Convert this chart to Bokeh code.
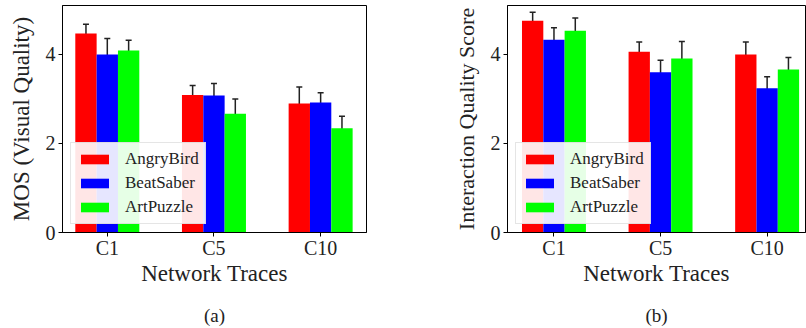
from bokeh.plotting import figure
from bokeh.layouts import row
from bokeh.models import (ColumnDataSource, Whisker, TeeHead, FixedTicker, Range1d,
                          Legend, LegendItem, LinearAxis)
from bokeh.embed import file_html
from bokeh.resources import INLINE

categories = ["C1", "C5", "C10"]
games = ["AngryBird", "BeatSaber", "ArtPuzzle"]

mos_angrybird = [4.47, 3.09, 2.90]
mos_beatsaber = [4.00, 3.08, 2.92]
mos_artpuzzle = [4.09, 2.67, 2.34]
mos_err_angrybird = [0.21, 0.21, 0.37]
mos_err_beatsaber = [0.36, 0.27, 0.22]
mos_err_artpuzzle = [0.23, 0.33, 0.27]

iq_angrybird = [4.76, 4.06, 4.00]
iq_beatsaber = [4.33, 3.60, 3.24]
iq_artpuzzle = [4.53, 3.91, 3.66]
iq_err_angrybird = [0.19, 0.22, 0.28]
iq_err_beatsaber = [0.27, 0.27, 0.26]
iq_err_artpuzzle = [0.29, 0.38, 0.27]

y_ticks = [0, 2, 4]

colors = ["#ff0000", "#0000ff", "#00ff00"]
offsets = [-0.2, 0.0, 0.2]
BAR_W = 0.2
FONT = "Liberation Serif"
TXT = "#222222"


def panel(series, errors, ylabel, ylabel_size, caption, width, left, right, top, xr):
    p = figure(width=width, height=328, x_range=Range1d(*xr), y_range=Range1d(0, 5.1),
               output_backend="svg", toolbar_location=None, title=None,
               min_border_left=left, min_border_right=right,
               min_border_top=top, min_border_bottom=96)
    p.xgrid.visible = False
    p.ygrid.visible = False
    p.outline_line_color = "black"
    p.outline_line_width = 1
    p.outline_line_alpha = 1
    p.background_fill_color = "white"
    p.border_fill_color = "white"

    items = []
    idx = list(range(len(categories)))
    for g, vals, errs, c, off in zip(games, series, errors, colors, offsets):
        xs = [i + off for i in idx]
        src = ColumnDataSource(dict(x=xs, top=vals,
                                    upper=[v + e for v, e in zip(vals, errs)],
                                    lower=[v - e for v, e in zip(vals, errs)]))
        r = p.vbar(x="x", top="top", width=BAR_W, bottom=0, source=src,
                   fill_color=c, line_color=None)
        items.append(LegendItem(label=g, renderers=[r]))
        w = Whisker(base="x", upper="upper", lower="lower", source=src,
                    line_color=TXT, line_width=1.5,
                    upper_head=TeeHead(size=6, line_color=TXT, line_width=1.5),
                    lower_head=TeeHead(size=6, line_color=TXT, line_width=1.5))
        p.add_layout(w)

    p.xaxis.ticker = FixedTicker(ticks=idx)
    p.xaxis.major_label_overrides = {i: c for i, c in enumerate(categories)}
    p.yaxis.ticker = FixedTicker(ticks=y_ticks)
    for ax in (p.xaxis, p.yaxis):
        ax.major_tick_in = 0
        ax.major_tick_out = 4
        ax.minor_tick_line_color = None
        ax.axis_line_color = "black"
        ax.major_tick_line_color = "black"
        ax.major_label_text_font = FONT
        ax.major_label_text_font_size = "20px"
        ax.major_label_text_color = TXT
        ax.axis_label_text_font = FONT
        ax.axis_label_text_font_style = "normal"
        ax.axis_label_text_color = TXT
    p.xaxis.axis_label_text_font_size = "23px"
    p.yaxis.axis_label_text_font_size = ylabel_size
    p.xaxis.axis_label = "Network Traces"
    p.yaxis.axis_label = ylabel
    p.xaxis.major_label_standoff = 0
    p.yaxis.major_label_standoff = 3
    p.xaxis.axis_label_standoff = -1
    p.yaxis.axis_label_standoff = 9

    leg = Legend(items=items, location="bottom_left", margin=8,
                 glyph_width=35, glyph_height=12, label_standoff=13,
                 label_height=20, spacing=4, padding=6,
                 label_text_font=FONT, label_text_font_size="17px",
                 label_text_color=TXT,
                 border_line_color="#cccccc", border_line_width=1,
                 background_fill_color="white", background_fill_alpha=0.9)
    p.add_layout(leg)

    # sub-figure caption as a bare (tickless, lineless) axis label below
    cap = LinearAxis(ticker=FixedTicker(ticks=[]), axis_line_color=None,
                     major_tick_line_color=None, minor_tick_line_color=None,
                     major_tick_out=0, major_tick_in=0,
                     major_label_text_font_size="0px",
                     axis_label=caption, axis_label_standoff=16,
                     axis_label_text_font=FONT, axis_label_text_font_size="19px",
                     axis_label_text_font_style="normal",
                     axis_label_text_color=TXT)
    p.add_layout(cap, "below")
    return p


p1 = panel([mos_angrybird, mos_beatsaber, mos_artpuzzle],
           [mos_err_angrybird, mos_err_beatsaber, mos_err_artpuzzle],
           "MOS (Visual Quality)", "23px", "(a)", 440, 62, 74, 5, (-0.42, 2.43))
p2 = panel([iq_angrybird, iq_beatsaber, iq_artpuzzle],
           [iq_err_angrybird, iq_err_beatsaber, iq_err_artpuzzle],
           "Interaction Quality Score", "22px", "(b)", 366, 67, 1, 3, (-0.436, 2.36))

layout = row(p1, p2)
open("out.html", "w").write(file_html(layout, INLINE))
